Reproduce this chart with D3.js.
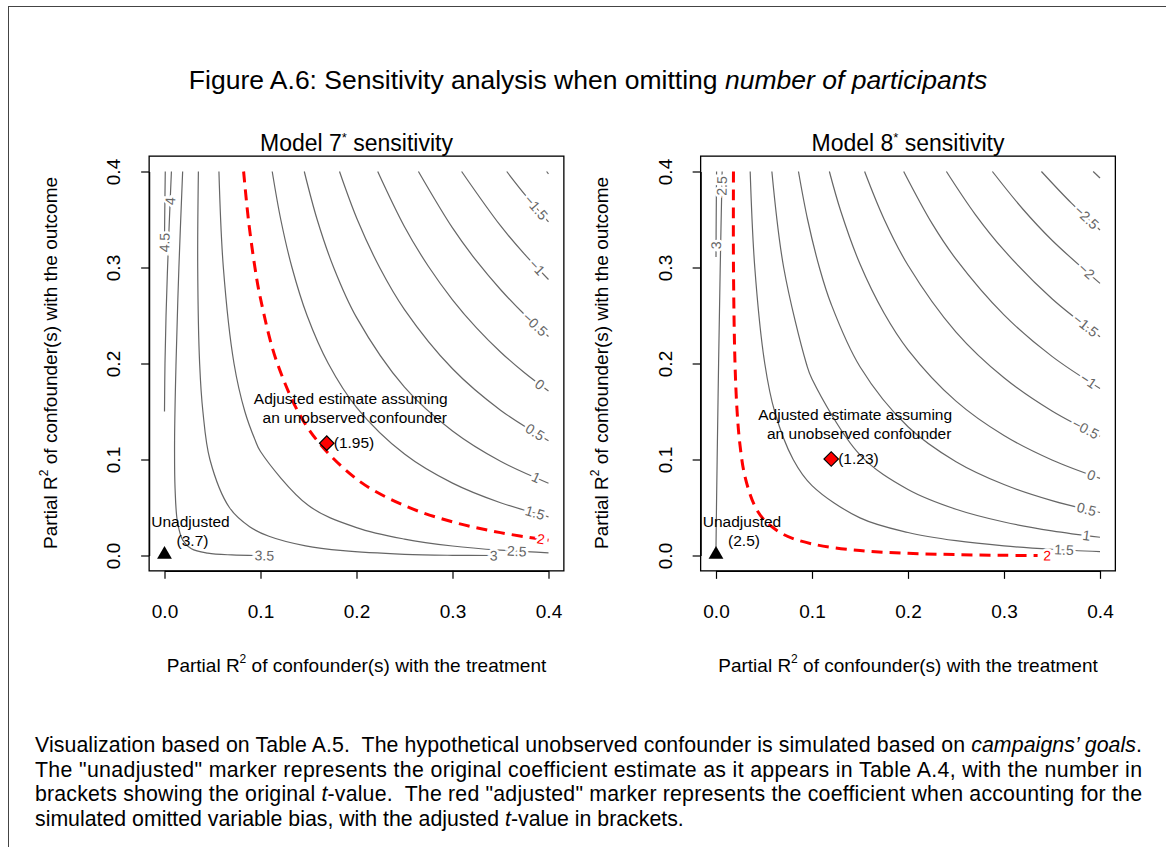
<!DOCTYPE html>
<meta charset="utf-8">
<style>
  body { margin: 0; background: #fff; }
  svg { font-family: "Liberation Sans", Arial, Helvetica, sans-serif; }
  .frame { fill: none; stroke: #444; stroke-width: 1; }
  .box { fill: none; stroke: #000; stroke-width: 1.3; }
  .contour { fill: none; stroke: #666; stroke-width: 1.2; }
  .threshold { fill: none; stroke: #f00; stroke-width: 3; stroke-dasharray: 11 7; }
  .clabel { font-size: 14px; fill: #666; stroke: #fff; stroke-width: 5; paint-order: stroke; }
  .clabel.red { fill: #f00; }
  .note { font-size: 15.5px; fill: #000; }
  .caption { font-size: 21.3px; fill: #000; white-space: pre; }
</style>
<body>
<script src="https://cdn.jsdelivr.net/npm/d3@7"></script>
<script>
    // axis ticks (same for both panels)
    var xTicks = [0, 0.1, 0.2, 0.3, 0.4];
    var yTicks = [0, 0.1, 0.2, 0.3, 0.4];

    // Model 7: contour levels of the adjusted t-value and the lines
    var m7Levels = [4.5, 4, 3.5, 3, 2.5, 2, 1.5, 1, 0.5, 0, -0.5, -1, -1.5, -2];
    var m7Lines = [
        [[0, 0.33], [0.0003, 0.36], [0.0008, 0.4]],
        [[0, 0.15], [0.0005, 0.2], [0.0016, 0.25], [0.0032, 0.3], [0.0051, 0.35], [0.0072, 0.4]],
        [[0.0189, 0.4], [0.015, 0.3], [0.012, 0.2], [0.0105, 0.12], [0.011, 0.07], [0.0135, 0.035], [0.019, 0.016], [0.028, 0.007], [0.045, 0.0025], [0.07, 0.0006], [0.0977, 0]],
        [[0.0353, 0.4], [0.0346, 0.3], [0.0366, 0.2], [0.04, 0.15], [0.0473, 0.1], [0.0676, 0.05], [0.0887, 0.03], [0.1088, 0.02], [0.147, 0.01], [0.186, 0.005], [0.25, 0.00125], [0.3, 0.0002], [0.343, 0]],
        [[0.0567, 0.4], [0.0613, 0.3], [0.0724, 0.2], [0.0837, 0.15], [0.0945, 0.12], [0.1, 0.1083], [0.15, 0.052], [0.2, 0.0291], [0.25, 0.0171], [0.3, 0.0099], [0.35, 0.0055], [0.4, 0.0027]],
        [[0.0824, 0.4], [0.0874, 0.35], [0.0942, 0.3], [0.1, 0.2677], [0.1176, 0.2], [0.15, 0.1318], [0.2, 0.0797], [0.25, 0.052], [0.3, 0.035], [0.35, 0.0238], [0.4, 0.0159]],
        [[0.1122, 0.4], [0.1211, 0.35], [0.1328, 0.3], [0.1485, 0.25], [0.1706, 0.2], [0.2, 0.1544], [0.25, 0.1057], [0.3, 0.0754], [0.35, 0.055], [0.4, 0.0403]],
        [[0.1456, 0.4], [0.159, 0.35], [0.1762, 0.3], [0.2, 0.248], [0.25, 0.1753], [0.3, 0.1296], [0.35, 0.0981], [0.4, 0.0753]],
        [[0.1823, 0.4], [0.2008, 0.35], [0.2241, 0.3], [0.25, 0.2562], [0.3, 0.1945], [0.35, 0.1514], [0.4, 0.1196]],
        [[0.2221, 0.4], [0.25, 0.3425], [0.275, 0.301], [0.3, 0.2664], [0.325, 0.2371], [0.35, 0.212], [0.375, 0.1903], [0.4, 0.1713]],
        [[0.2645, 0.4], [0.3, 0.3412], [0.325, 0.3068], [0.35, 0.2771], [0.375, 0.251], [0.4, 0.2281]],
        [[0.3095, 0.4], [0.35, 0.3435], [0.375, 0.3139], [0.4, 0.2875]],
        [[0.3565, 0.4], [0.375, 0.3765], [0.4, 0.3476]],
        [[0.398, 0.4], [0.4, 0.3975]]
    ];
    // where each contour carries its label: ["x" or "y", value], null = no label
    var m7LabelAt = [["y", 0.326], ["y", 0.369], ["x", 0.104], ["x", 0.343], ["x", 0.367], ["x", 0.392],
                     ["x", 0.386], ["x", 0.387], ["x", 0.386], ["x", 0.391], ["x", 0.386], ["x", 0.388], ["x", 0.387], null];
    var m7Points = [[0, 0], [0.169, 0.117]];   // unadjusted, adjusted
    var m7TValues = ["3.7", "1.95"];

    // Model 8
    var m8Levels = [3, 2.5, 2, 1.5, 1, 0.5, 0, -0.5, -1, -1.5, -2, -2.5, -3];
    var m8Lines = [
        [[0, 0.311], [0.0002, 0.35], [0.0006, 0.4]],
        [[0, 0.0083], [0.0005, 0.05], [0.0012, 0.1], [0.0027, 0.2], [0.0044, 0.3], [0.0064, 0.4]],
        [[0.0182, 0.4], [0.0182, 0.3], [0.0198, 0.2], [0.022, 0.15], [0.025, 0.115], [0.03, 0.083], [0.04, 0.0524], [0.05, 0.0373], [0.07, 0.0221], [0.1, 0.0121], [0.15, 0.0052], [0.2, 0.0023], [0.25, 0.0009], [0.3, 0.0002], [0.335, 0]],
        [[0.0356, 0.4], [0.0404, 0.3], [0.0508, 0.2], [0.0611, 0.15], [0.0804, 0.1], [0.1, 0.0728], [0.15, 0.0392], [0.2, 0.024], [0.25, 0.0154], [0.3, 0.01], [0.35, 0.0065], [0.4, 0.004]],
        [[0.0582, 0.4], [0.0705, 0.3], [0.0941, 0.2], [0.1, 0.1839], [0.15, 0.1049], [0.2, 0.0688], [0.25, 0.0482], [0.3, 0.0349], [0.35, 0.0257], [0.4, 0.019]],
        [[0.0859, 0.4], [0.0954, 0.35], [0.1077, 0.3], [0.12, 0.2617], [0.15, 0.1966], [0.2, 0.1341], [0.25, 0.0977], [0.3, 0.0739], [0.35, 0.0572], [0.4, 0.0448]],
        [[0.1181, 0.4], [0.13, 0.3586], [0.15, 0.3036], [0.175, 0.2526], [0.2, 0.2143], [0.25, 0.1608], [0.3, 0.125], [0.35, 0.0995], [0.4, 0.0804]],
        [[0.1548, 0.4], [0.175, 0.3506], [0.2, 0.3023], [0.25, 0.2327], [0.3, 0.1851], [0.35, 0.1505], [0.4, 0.1241]],
        [[0.1955, 0.4], [0.225, 0.3459], [0.25, 0.3087], [0.3, 0.2506], [0.35, 0.2074], [0.4, 0.174]],
        [[0.24, 0.4], [0.27, 0.3554], [0.3, 0.318], [0.35, 0.2675], [0.4, 0.2278]],
        [[0.2879, 0.4], [0.32, 0.3604], [0.35, 0.3284], [0.4, 0.2835]],
        [[0.339, 0.4], [0.37, 0.3673], [0.4, 0.3391]],
        [[0.3929, 0.4], [0.4, 0.3932]]
    ];
    var m8LabelAt = [["y", 0.323], ["y", 0.385], ["x", 0.345], ["x", 0.3625], ["x", 0.386], ["x", 0.386], ["x", 0.391],
                     ["x", 0.385], ["x", 0.388], ["x", 0.385], ["x", 0.386], ["x", 0.386], null];
    var m8Points = [[0, 0], [0.12, 0.1005]];
    var m8TValues = ["2.5", "1.23"];

    var threshold = 2;

    var svg = d3.select("body").append("svg")
        .attr("width", 1166)
        .attr("height", 847);

    svg.append("rect").attr("class", "frame")
        .attr("x", 8.5).attr("y", 6.5).attr("width", 1170).attr("height", 850);

    svg.append("text")
        .attr("x", 588).attr("y", 89)
        .attr("text-anchor", "middle")
        .style("font-size", "26.5px")
        .text("Figure A.6: Sensitivity analysis when omitting ")
        .append("tspan").style("font-style", "italic").text("number of participants");

    var line = d3.line().curve(d3.curveCatmullRom.alpha(0.5));

    function labelPoint(pts, at, x, y) {
        var k = at[0] === "x" ? 0 : 1, v = at[1];
        var P = pts.map(function(p) { return [x(p[0]), y(p[1])]; });
        var i = -1, t = 0;
        for (var j = 0; j < pts.length - 1; j++) {
            var a = pts[j][k], b = pts[j + 1][k];
            if (a !== b && (v - a) * (v - b) <= 0) { i = j; t = (v - a) / (b - a); break; }
        }
        if (i < 0) {   // past the end of the line: extend the nearest end segment
            var first = Math.abs(v - pts[0][k]) < Math.abs(v - pts[pts.length - 1][k]);
            i = first ? 0 : pts.length - 2;
            var a2 = pts[i][k], b2 = pts[i + 1][k];
            t = (v - a2) / (b2 - a2);
        }
        var px = P[i][0] + t * (P[i + 1][0] - P[i][0]),
            py = P[i][1] + t * (P[i + 1][1] - P[i][1]);
        var ang = Math.atan2(P[i + 1][1] - P[i][1], P[i + 1][0] - P[i][0]) * 180 / Math.PI;
        if (ang > 80) ang -= 180;
        if (ang < -100) ang += 180;
        return [px, py, ang];
    }

    function drawPanel(x0, title, levels, lines, labelAt, points, tvals) {
        var x = d3.scaleLinear().domain([0, 0.4]).range([x0, x0 + 384]);
        var y = d3.scaleLinear().domain([0, 0.4]).range([555.5, 171.5]);
        var g = svg.append("g");

        // contour lines
        lines.forEach(function(pts, i) {
            g.append("path")
                .attr("class", levels[i] === threshold ? "threshold" : "contour")
                .attr("d", line(pts.map(function(p) { return [x(p[0]), y(p[1])]; })));
        });

        // contour labels
        lines.forEach(function(pts, i) {
            if (!labelAt[i]) return;
            var lp = labelPoint(pts, labelAt[i], x, y);
            g.append("text")
                .attr("class", levels[i] === threshold ? "clabel red" : "clabel")
                .attr("text-anchor", "middle")
                .attr("dy", "0.35em")
                .attr("transform", "translate(" + lp[0] + "," + lp[1] + ") rotate(" + lp[2] + ")")
                .text(d3.format("")(levels[i]));
        });

        // box
        g.append("rect").attr("class", "box")
            .attr("x", x(-0.016)).attr("y", y(0.416))
            .attr("width", x(0.416) - x(-0.016)).attr("height", y(-0.016) - y(0.416));

        // axes
        var xa = g.append("g")
            .attr("transform", "translate(0," + y(-0.016) + ")")
            .call(d3.axisBottom(x).tickValues(xTicks).tickFormat(d3.format(".1f"))
                .tickSize(8).tickSizeOuter(0).tickPadding(26));
        var ya = g.append("g")
            .attr("transform", "translate(" + x(-0.016) + ",0)")
            .call(d3.axisLeft(y).tickValues(yTicks).tickFormat(d3.format(".1f"))
                .tickSize(8).tickSizeOuter(0));
        [xa, ya].forEach(function(a) {
            a.attr("font-family", null).attr("font-size", 19);
            a.selectAll("line, path").attr("stroke-width", 1.2);
        });
        ya.selectAll(".tick text")
            .attr("transform", "rotate(-90)")
            .attr("x", 0).attr("y", -29).attr("dy", 0)
            .attr("text-anchor", "middle");

        // titles
        var t = g.append("text").attr("x", x0 + 192).attr("y", 151)
            .attr("text-anchor", "middle").style("font-size", "23px").text(title);
        t.append("tspan").attr("dy", -9).style("font-size", "13px").text("*");
        t.append("tspan").attr("dy", 9).text(" sensitivity");

        var xt = g.append("text").attr("x", x0 + 192).attr("y", 672)
            .attr("text-anchor", "middle").style("font-size", "19px").text("Partial R");
        xt.append("tspan").attr("dy", -9).style("font-size", "12px").text("2");
        xt.append("tspan").attr("dy", 9).text(" of confounder(s) with the treatment");

        var yt = g.append("text")
            .attr("transform", "translate(" + (x0 - 108) + "," + 363 + ") rotate(-90)")
            .attr("text-anchor", "middle").style("font-size", "19px").text("Partial R");
        yt.append("tspan").attr("dy", -9).style("font-size", "12px").text("2");
        yt.append("tspan").attr("dy", 9).text(" of confounder(s) with the outcome");

        // unadjusted marker
        var u = [x(points[0][0]), y(points[0][1])];
        g.append("path").attr("d", d3.symbol(d3.symbolTriangle, 95)())
            .attr("transform", "translate(" + u[0] + "," + (u[1] - 1) + ")")
            .attr("fill", "#000");
        g.append("text").attr("class", "note").attr("text-anchor", "middle")
            .attr("x", u[0] + 26).attr("y", u[1] - 29).text("Unadjusted");
        g.append("text").attr("class", "note").attr("text-anchor", "middle")
            .attr("x", u[0] + 28).attr("y", u[1] - 10).text("(" + tvals[0] + ")");

        // adjusted marker
        var d = [x(points[1][0]), y(points[1][1])];
        g.append("text").attr("class", "note").attr("text-anchor", "middle")
            .attr("x", d[0] + 24).attr("y", d[1] - 39).text("Adjusted estimate assuming");
        g.append("text").attr("class", "note").attr("text-anchor", "middle")
            .attr("x", d[0] + 28).attr("y", d[1] - 20).text("an unobserved confounder");
        g.append("path").attr("d", d3.symbol(d3.symbolSquare, 105)())
            .attr("transform", "translate(" + d[0] + "," + d[1] + ") rotate(45)")
            .attr("fill", "#f00").attr("stroke", "#000").attr("stroke-width", 1.2);
        g.append("text").attr("class", "note")
            .attr("x", d[0] + 7).attr("y", d[1] + 5).text("(" + tvals[1] + ")");
    }

    drawPanel(164.5, "Model 7", m7Levels, m7Lines, m7LabelAt, m7Points, m7TValues);
    drawPanel(716, "Model 8", m8Levels, m8Lines, m8LabelAt, m8Points, m8TValues);

    // caption
    var cap = [
        [["Visualization based on Table A.5.  The hypothetical unobserved confounder is simulated based on ", 0], ["campaigns\u2019 goals", 1], [".", 0]],
        [["The \"unadjusted\" marker represents the original coefficient estimate as it appears in Table A.4, with the number in", 0]],
        [["brackets showing the original ", 0], ["t", 1], ["-value.  The red \"adjusted\" marker represents the coefficient when accounting for the", 0]],
        [["simulated omitted variable bias, with the adjusted ", 0], ["t", 1], ["-value in brackets.", 0]]
    ];
    cap.forEach(function(parts, i) {
        var t = svg.append("text").attr("class", "caption")
            .attr("x", 35).attr("y", 752 + i * 24.7);
        if (i < 3) t.attr("textLength", 1107).attr("lengthAdjust", "spacing");
        parts.forEach(function(p) {
            t.append("tspan").style("font-style", p[1] ? "italic" : null).text(p[0]);
        });
    });
</script>
